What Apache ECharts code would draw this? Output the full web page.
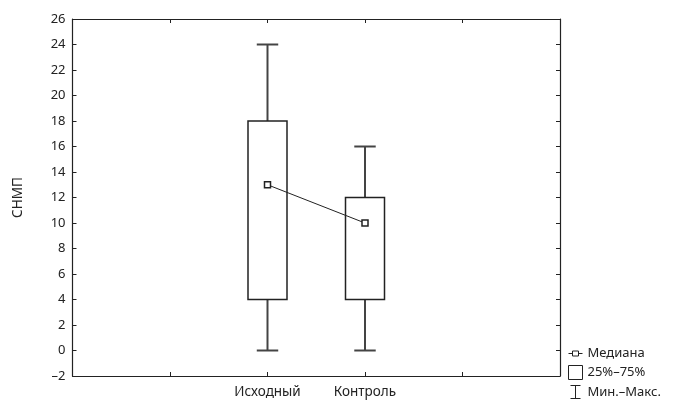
<!DOCTYPE html>
<html><head><meta charset="utf-8">
<script src="https://cdn.jsdelivr.net/npm/echarts@6/dist/echarts.min.js"></script>
<style>html,body{margin:0;padding:0;background:#fff}#c{width:676px;height:406px}</style>
</head><body><div id="c"></div>
<script>
const categories = ['Исходный', 'Контроль'];
const mins = [0, 0];
const q1s = [4, 4];
const medians = [13, 10];
const q3s = [18, 12];
const maxs = [24, 16];
const yTicks = [-2, 0, 2, 4, 6, 8, 10, 12, 14, 16, 18, 20, 22, 24, 26];
const FONT = 'Noto Sans';
const pos = i => i + 2;

const chart = echarts.init(document.getElementById('c'), null, {renderer: 'canvas'});
const lineCol = '#222';

const boxData = categories.map((c, i) => [pos(i), q1s[i], q3s[i]]);
const whiskerData = categories.map((c, i) => [pos(i), mins[i], q1s[i], q3s[i], maxs[i]]);
const medianData = categories.map((c, i) => [pos(i), medians[i]]);

const axisCommon = () => ({
  axisLine: {show: true, onZero: false, lineStyle: {color: lineCol, width: 1.2}},
  axisTick: {show: true, inside: true, length: 4, lineStyle: {color: lineCol}},
  splitLine: {show: false}
});

chart.setOption({
  animation: false,
  grid: {left: 72.5, right: 116, top: 19, bottom: 30},
  xAxis: [
    Object.assign({type: 'value', min: 0, max: 5, interval: 1, position: 'bottom',
      axisLabel: {show: true, margin: 9, fontFamily: FONT, fontSize: 13.5, color: '#222',
        formatter: v => categories[v - 2] || ''}}, axisCommon()),
    Object.assign({type: 'value', min: 0, max: 5, interval: 1, position: 'top',
      axisLabel: {show: false}}, axisCommon())
  ],
  yAxis: [
    Object.assign({type: 'value', min: -2, max: 26, interval: 2, position: 'left',
      name: 'СНМП', nameLocation: 'middle', nameGap: 47, nameRotate: 90,
      nameTextStyle: {fontFamily: FONT, fontSize: 13.5, color: '#222'},
      axisLabel: {show: true, margin: 7, fontFamily: FONT, fontSize: 13, color: '#222',
        formatter: v => String(v).replace('-', '–')}}, axisCommon()),
    Object.assign({type: 'value', min: -2, max: 26, interval: 2, position: 'right',
      axisLabel: {show: false}}, axisCommon())
  ],
  legend: {
    orient: 'vertical', left: 568, top: 347, padding: 0, itemGap: 5,
    itemWidth: 14, itemHeight: 14,
    textStyle: {fontFamily: FONT, fontSize: 13, color: '#222'},
    data: [
      {name: 'Медиана', icon: 'path://M0,6.5 L4,6.5 M4,4 L10,4 L10,9 L4,9 Z M10,6.5 L14,6.5', itemStyle: {color: '#fff', borderColor: lineCol, borderWidth: 1}},
      {name: '25%–75%', icon: 'rect', itemStyle: {color: '#fff', borderColor: lineCol, borderWidth: 1}},
      {name: 'Мин.–Макс.', icon: 'path://M2,0 L12,0 L12,1 L7.5,1 L7.5,13 L12,13 L12,14 L2,14 L2,13 L6.5,13 L6.5,1 L2,1 Z', itemStyle: {color: lineCol}}
    ]
  },
  series: [
    {
      name: 'Мин.–Макс.', type: 'custom', xAxisIndex: 0, yAxisIndex: 0,
      data: whiskerData,
      renderItem: (params, api) => {
        const x = api.value(0);
        const pMin = api.coord([x, api.value(1)]);
        const pQ1 = api.coord([x, api.value(2)]);
        const pQ3 = api.coord([x, api.value(3)]);
        const pMax = api.coord([x, api.value(4)]);
        const cl = api.coord([x - 0.11, 0])[0];
        const cr = api.coord([x + 0.11, 0])[0];
        const st = {stroke: '#444', lineWidth: 2, fill: null};
        return {type: 'group', children: [
          {type: 'line', shape: {x1: pMax[0], y1: pMax[1], x2: pQ3[0], y2: pQ3[1]}, style: st},
          {type: 'line', shape: {x1: pQ1[0], y1: pQ1[1], x2: pMin[0], y2: pMin[1]}, style: st},
          {type: 'line', shape: {x1: cl, y1: pMax[1], x2: cr, y2: pMax[1]}, style: st},
          {type: 'line', shape: {x1: cl, y1: pMin[1], x2: cr, y2: pMin[1]}, style: st}
        ]};
      },
      itemStyle: {color: lineCol}, z: 2
    },
    {
      name: '25%–75%', type: 'custom', xAxisIndex: 0, yAxisIndex: 0,
      data: boxData,
      renderItem: (params, api) => {
        const x = api.value(0);
        const tl = api.coord([x - 0.2, api.value(2)]);
        const br = api.coord([x + 0.2, api.value(1)]);
        return {type: 'rect', shape: {x: tl[0], y: tl[1], width: br[0] - tl[0], height: br[1] - tl[1]},
          style: {fill: '#fff', stroke: lineCol, lineWidth: 1.5}};
      },
      itemStyle: {color: '#fff', borderColor: lineCol}, z: 3
    },
    {
      name: 'Медиана', type: 'line', xAxisIndex: 0, yAxisIndex: 0,
      data: medianData, symbol: 'rect', symbolSize: 6,
      lineStyle: {color: lineCol, width: 1},
      itemStyle: {color: '#fff', borderColor: lineCol, borderWidth: 1.5},
      z: 5
    }
  ]
});
</script></body></html>
